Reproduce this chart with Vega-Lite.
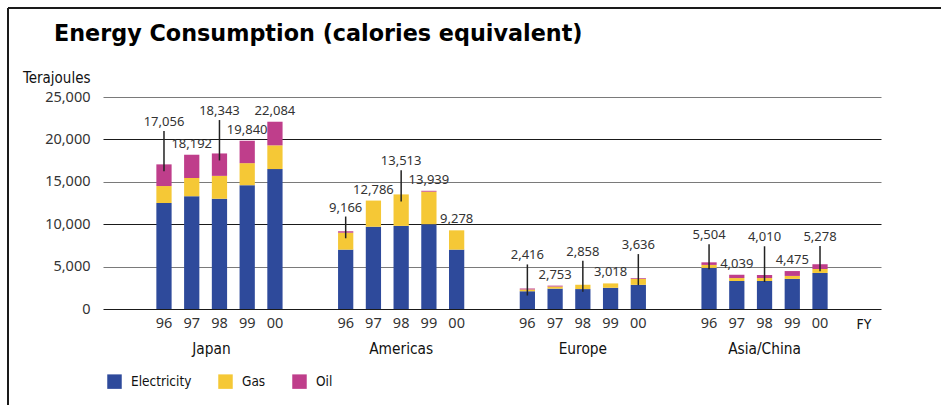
{
  "$schema": "https://vega.github.io/schema/vega-lite/v6.json",
  "width": 933,
  "height": 397,
  "autosize": {"type": "none"},
  "padding": {"left": 8, "top": 8, "right": 0, "bottom": 0},
  "background": "white",
  "config": {
    "view": {"stroke": "#1a1a1a", "strokeWidth": 2, "strokeDash": [933, 1330, 397, 0]},
    "font": "Noto Sans"
  },
  "title": {
    "text": "Energy Consumption (calories equivalent)",
    "anchor": "start",
    "frame": "group",
    "offset": -55,
    "dx": 46,
    "baseline": "alphabetic",
    "font": "DejaVu Sans",
    "fontSize": 22.3,
    "fontWeight": "bold",
    "color": "#000000"
  },
  "data": {
    "values": [
      {"region": "Japan", "year": "96", "source": "Electricity", "value": 12500},
      {"region": "Japan", "year": "96", "source": "Gas", "value": 2000},
      {"region": "Japan", "year": "96", "source": "Oil", "value": 2556},
      {"region": "Japan", "year": "97", "source": "Electricity", "value": 13300},
      {"region": "Japan", "year": "97", "source": "Gas", "value": 2150},
      {"region": "Japan", "year": "97", "source": "Oil", "value": 2742},
      {"region": "Japan", "year": "98", "source": "Electricity", "value": 13000},
      {"region": "Japan", "year": "98", "source": "Gas", "value": 2700},
      {"region": "Japan", "year": "98", "source": "Oil", "value": 2643},
      {"region": "Japan", "year": "99", "source": "Electricity", "value": 14600},
      {"region": "Japan", "year": "99", "source": "Gas", "value": 2600},
      {"region": "Japan", "year": "99", "source": "Oil", "value": 2640},
      {"region": "Japan", "year": "00", "source": "Electricity", "value": 16500},
      {"region": "Japan", "year": "00", "source": "Gas", "value": 2800},
      {"region": "Japan", "year": "00", "source": "Oil", "value": 2784},
      {"region": "Americas", "year": "96", "source": "Electricity", "value": 7000},
      {"region": "Americas", "year": "96", "source": "Gas", "value": 2000},
      {"region": "Americas", "year": "96", "source": "Oil", "value": 166},
      {"region": "Americas", "year": "97", "source": "Electricity", "value": 9700},
      {"region": "Americas", "year": "97", "source": "Gas", "value": 3086},
      {"region": "Americas", "year": "98", "source": "Electricity", "value": 9800},
      {"region": "Americas", "year": "98", "source": "Gas", "value": 3713},
      {"region": "Americas", "year": "99", "source": "Electricity", "value": 10000},
      {"region": "Americas", "year": "99", "source": "Gas", "value": 3839},
      {"region": "Americas", "year": "99", "source": "Oil", "value": 100},
      {"region": "Americas", "year": "00", "source": "Electricity", "value": 7000},
      {"region": "Americas", "year": "00", "source": "Gas", "value": 2278},
      {"region": "Europe", "year": "96", "source": "Electricity", "value": 2100},
      {"region": "Europe", "year": "96", "source": "Gas", "value": 200},
      {"region": "Europe", "year": "96", "source": "Oil", "value": 116},
      {"region": "Europe", "year": "97", "source": "Electricity", "value": 2400},
      {"region": "Europe", "year": "97", "source": "Gas", "value": 250},
      {"region": "Europe", "year": "97", "source": "Oil", "value": 103},
      {"region": "Europe", "year": "98", "source": "Electricity", "value": 2350},
      {"region": "Europe", "year": "98", "source": "Gas", "value": 508},
      {"region": "Europe", "year": "99", "source": "Electricity", "value": 2500},
      {"region": "Europe", "year": "99", "source": "Gas", "value": 518},
      {"region": "Europe", "year": "00", "source": "Electricity", "value": 2850},
      {"region": "Europe", "year": "00", "source": "Gas", "value": 700},
      {"region": "Europe", "year": "00", "source": "Oil", "value": 86},
      {"region": "Asia/China", "year": "96", "source": "Electricity", "value": 4850},
      {"region": "Asia/China", "year": "96", "source": "Gas", "value": 350},
      {"region": "Asia/China", "year": "96", "source": "Oil", "value": 304},
      {"region": "Asia/China", "year": "97", "source": "Electricity", "value": 3300},
      {"region": "Asia/China", "year": "97", "source": "Gas", "value": 350},
      {"region": "Asia/China", "year": "97", "source": "Oil", "value": 389},
      {"region": "Asia/China", "year": "98", "source": "Electricity", "value": 3300},
      {"region": "Asia/China", "year": "98", "source": "Gas", "value": 350},
      {"region": "Asia/China", "year": "98", "source": "Oil", "value": 360},
      {"region": "Asia/China", "year": "99", "source": "Electricity", "value": 3550},
      {"region": "Asia/China", "year": "99", "source": "Gas", "value": 350},
      {"region": "Asia/China", "year": "99", "source": "Oil", "value": 575},
      {"region": "Asia/China", "year": "00", "source": "Electricity", "value": 4250},
      {"region": "Asia/China", "year": "00", "source": "Gas", "value": 470},
      {"region": "Asia/China", "year": "00", "source": "Oil", "value": 558}
    ]
  },
  "layer": [
    {
      "mark": {"type": "bar"},
      "encoding": {
        "x": {
          "field": "region", "type": "nominal",
          "sort": ["Japan", "Americas", "Europe", "Asia/China"],
          "scale": {"range": [95, 873], "paddingInner": 0, "paddingOuter": 0.141},
          "axis": {
            "title": "FY", "orient": "bottom", "offset": -96,
            "domain": false, "ticks": false, "grid": false, "labelAngle": 0,
            "labelFont": "Liberation Sans Narrow, DejaVu Sans Condensed, Roboto Condensed, Roboto, sans-serif",
            "labelFontSize": 15.3, "labelColor": "#111111",
            "labelBaseline": "alphabetic", "labelPadding": 44,
            "labelOffset": {"condition": {"test": "datum.value == 'Japan'", "value": -8}, "value": 0},
            "titleX": 848, "titleY": 19, "titleAlign": "left", "titleBaseline": "alphabetic",
            "titleFont": "Liberation Sans Narrow, DejaVu Sans Condensed, Roboto Condensed, Roboto, sans-serif",
            "titleFontSize": 14, "titleFontWeight": "normal", "titleColor": "#111111"
          }
        },
        "xOffset": {
          "field": "year", "type": "nominal",
          "sort": ["96", "97", "98", "99", "00"],
          "scale": {"paddingInner": 0.45, "paddingOuter": 1.05}
        },
        "y": {
          "field": "value", "type": "quantitative", "stack": "zero",
          "scale": {"domain": [0, 25000], "range": [301, 89], "nice": false},
          "axis": {
            "values": [0, 5000, 10000, 15000, 20000, 25000], "format": ",d",
            "title": "Terajoules", "titleAngle": 0, "titleAlign": "right", "titleBaseline": "alphabetic",
            "titleX": -13, "titleY": 74,
            "titleFont": "Liberation Sans Narrow, DejaVu Sans Condensed, Roboto Condensed, Roboto, sans-serif",
            "titleFontSize": 15, "titleFontWeight": "normal", "titleColor": "#111111",
            "offset": -95, "domain": false, "ticks": false, "labelPadding": 13,
            "labelFont": "Noto Sans", "labelFontSize": 14.5, "labelColor": "#333333",
            "grid": true,
            "gridColor": {"condition": {"test": "datum.value % 10000 === 0", "value": "#1a1a1a"}, "value": "#7a7a7a"},
            "gridWidth": 1.2
          }
        },
        "color": {
          "field": "source", "type": "nominal",
          "scale": {"domain": ["Electricity", "Gas", "Oil"], "range": ["#2E4A9B", "#F5C836", "#BF3E8B"]},
          "legend": {
            "orient": "none", "legendX": 99, "legendY": 366, "direction": "horizontal",
            "title": null, "symbolType": "square", "symbolSize": 210, "symbolStrokeWidth": 0,
            "labelFont": "Liberation Sans Narrow, DejaVu Sans Condensed, Roboto Condensed, Roboto, sans-serif",
            "labelFontSize": 13.5, "labelColor": "#111111",
            "labelOffset": 9, "columnPadding": 26, "padding": 0
          }
        },
        "order": {"field": "source", "sort": "ascending"}
      }
    },
    {
      "transform": [
        {"aggregate": [{"op": "sum", "field": "value", "as": "total"}], "groupby": ["region", "year"]}
      ],
      "mark": {"type": "text", "baseline": "alphabetic", "dy": 19, "fontSize": 14.5, "font": "Noto Sans", "color": "#333333"},
      "encoding": {
        "x": {"field": "region", "type": "nominal", "sort": ["Japan", "Americas", "Europe", "Asia/China"]},
        "xOffset": {"field": "year", "type": "nominal", "sort": ["96", "97", "98", "99", "00"]},
        "y": {"datum": 0, "type": "quantitative", "scale": {"domain": [0, 25000], "range": [301, 89], "nice": false}},
        "text": {"field": "year"}
      }
    },
    {
      "transform": [
        {"aggregate": [{"op": "sum", "field": "value", "as": "total"}], "groupby": ["region", "year"]},
        {"filter": "!(datum.year == '96' || datum.year == '98' || (datum.year == '00' && (datum.region == 'Europe' || datum.region == 'Asia/China')))"}
      ],
      "mark": {"type": "text", "baseline": "middle", "dy": -11, "fontSize": 13, "font": "Noto Sans", "color": "#333333"},
      "encoding": {
        "x": {"field": "region", "type": "nominal", "sort": ["Japan", "Americas", "Europe", "Asia/China"]},
        "xOffset": {"field": "year", "type": "nominal", "sort": ["96", "97", "98", "99", "00"]},
        "y": {"field": "total", "type": "quantitative", "scale": {"domain": [0, 25000], "range": [301, 89], "nice": false}},
        "text": {"field": "total", "type": "quantitative", "format": ",d"}
      }
    },
    {
      "transform": [
        {"aggregate": [{"op": "sum", "field": "value", "as": "total"}], "groupby": ["region", "year"]},
        {"filter": "datum.year == '96' || datum.year == '98' || (datum.year == '00' && (datum.region == 'Europe' || datum.region == 'Asia/China'))"},
        {"calculate": "datum.total + (datum.region == 'Japan' ? 5000 : (datum.region == 'Americas' && datum.year == '96') ? 2800 : (datum.region == 'Asia/China' && datum.year == '98') ? 4450 : datum.region == 'Asia/China' ? 3200 : 3900)", "as": "labelY"}
      ],
      "mark": {"type": "rule", "yOffset": 9, "y2Offset": 7, "color": "#222222", "strokeWidth": 1.5},
      "encoding": {
        "x": {"field": "region", "type": "nominal", "sort": ["Japan", "Americas", "Europe", "Asia/China"]},
        "xOffset": {"field": "year", "type": "nominal", "sort": ["96", "97", "98", "99", "00"]},
        "y": {"field": "labelY", "type": "quantitative", "scale": {"domain": [0, 25000], "range": [301, 89], "nice": false}},
        "y2": {"field": "total"}
      }
    },
    {
      "transform": [
        {"aggregate": [{"op": "sum", "field": "value", "as": "total"}], "groupby": ["region", "year"]},
        {"filter": "datum.year == '96' || datum.year == '98' || (datum.year == '00' && (datum.region == 'Europe' || datum.region == 'Asia/China'))"},
        {"calculate": "datum.total + (datum.region == 'Japan' ? 5000 : (datum.region == 'Americas' && datum.year == '96') ? 2800 : (datum.region == 'Asia/China' && datum.year == '98') ? 4450 : datum.region == 'Asia/China' ? 3200 : 3900)", "as": "labelY"}
      ],
      "mark": {"type": "text", "baseline": "middle", "fontSize": 13, "font": "Noto Sans", "color": "#333333"},
      "encoding": {
        "x": {"field": "region", "type": "nominal", "sort": ["Japan", "Americas", "Europe", "Asia/China"]},
        "xOffset": {"field": "year", "type": "nominal", "sort": ["96", "97", "98", "99", "00"]},
        "y": {"field": "labelY", "type": "quantitative", "scale": {"domain": [0, 25000], "range": [301, 89], "nice": false}},
        "text": {"field": "total", "type": "quantitative", "format": ",d"}
      }
    }
  ]
}
